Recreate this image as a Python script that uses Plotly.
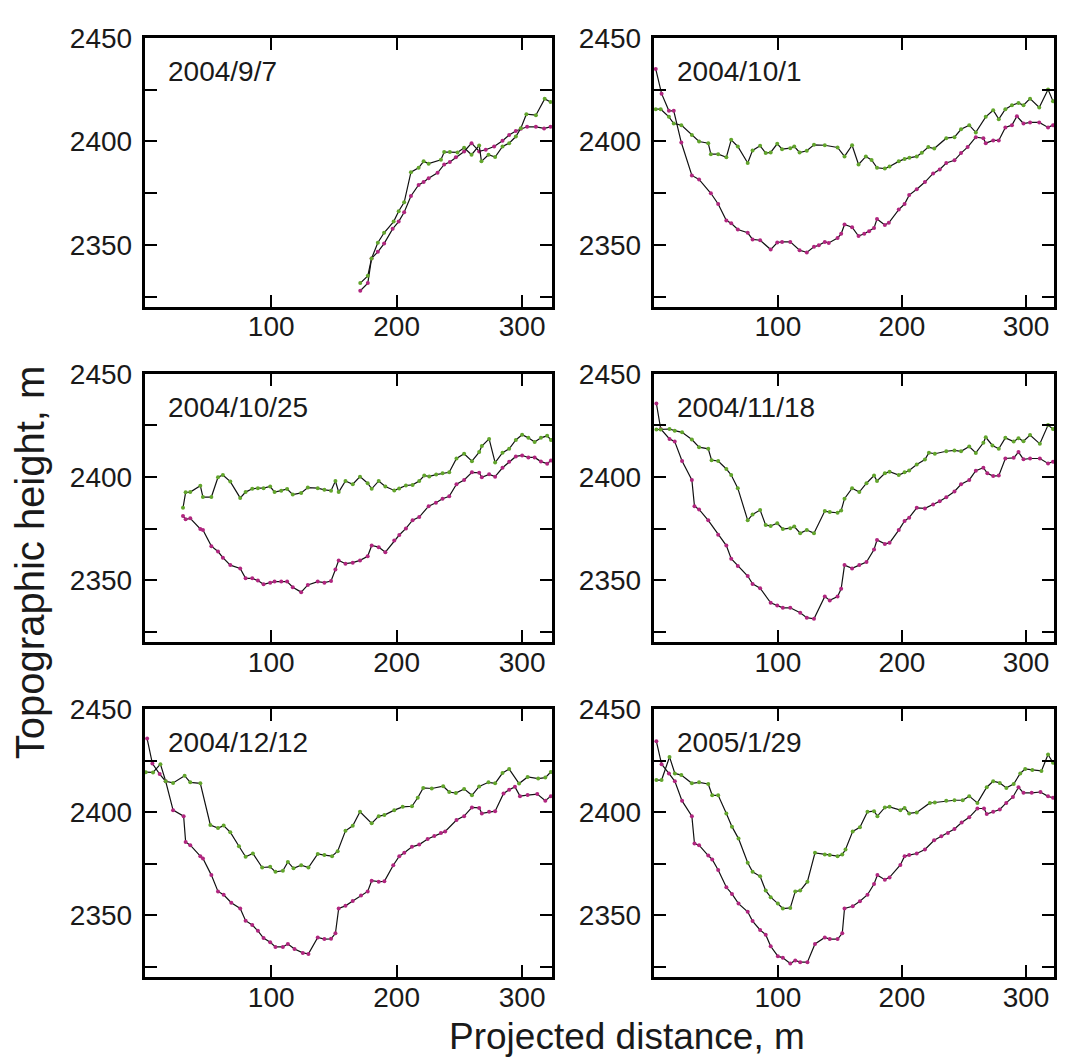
import plotly.graph_objects as go

# ---------------- data ----------------
dates = ["2004/9/7", "2004/10/1", "2004/10/25", "2004/11/18", "2004/12/12", "2005/1/29"]

# panel 1 : 2004/9/7
p1_green_x = [171, 177, 180, 185, 190, 197.6, 201.6, 206, 211.4, 217.5, 221.5, 225.5, 235.3, 237.9, 242.4, 248.5, 253.8, 259.7, 265.8, 267.6, 273.2, 278.5, 284.4, 289.7, 295, 299, 303.4, 311, 318, 322.7]
p1_green_y = [2331.5, 2335, 2343.4, 2351, 2355.8, 2361.2, 2366.2, 2370.5, 2385.1, 2387.2, 2390.3, 2389.2, 2391.1, 2394.8, 2394.8, 2394.6, 2396.9, 2393.5, 2398, 2390.3, 2393.5, 2392.4, 2397.5, 2399.1, 2402.3, 2406.3, 2413.1, 2412.6, 2420.5, 2419]
p1_mag_x = [171, 177, 180, 185, 190, 196.8, 201.6, 206, 211.4, 217.5, 221.5, 225.5, 232.6, 237.9, 242.4, 247.2, 253.8, 259.7, 265.8, 271, 277.7, 284.4, 289.7, 295, 299, 304, 311, 317.5, 322.7]
p1_mag_y = [2327.8, 2331.5, 2343.4, 2346.6, 2350.6, 2357.7, 2361.2, 2365.7, 2373.6, 2378.9, 2380.3, 2382.1, 2384.8, 2388.8, 2390, 2392.3, 2395.1, 2399.1, 2395.1, 2395.9, 2397.5, 2400.3, 2403, 2405, 2406, 2407, 2407, 2406.2, 2407]

# panel 2 : 2004/10/1
p2_green_x = [1.6, 5.6, 12.2, 16.1, 22.2, 30.7, 36.5, 43.9, 46, 51.9, 58.5, 62.4, 67.7, 75.7, 79.6, 85.7, 90.2, 94.2, 99.5, 103.4, 110, 113.2, 117.5, 123.3, 129.1, 137.8, 148.1, 153.7, 159.8, 165, 170.9, 175.5, 179.9, 186.2, 190, 197.4, 202.1, 206, 211.9, 216, 221.2, 226, 235.7, 242.3, 247.6, 254.2, 259.5, 267.5, 273.5, 278, 283.3, 288.6, 293.9, 297.9, 303.2, 310.6, 317.7, 321.7]
p2_green_y = [2415.5, 2415.5, 2411.8, 2408.6, 2407.8, 2403.1, 2399.9, 2399.1, 2393.8, 2393.8, 2392.3, 2400.7, 2397.5, 2389.5, 2395.6, 2397.8, 2394.3, 2394.6, 2398.8, 2396.2, 2396.7, 2397.5, 2394.6, 2395.4, 2398.3, 2398.1, 2397, 2392.7, 2398.1, 2388.8, 2392.7, 2391, 2387.2, 2386.8, 2387.8, 2390.3, 2391.5, 2392, 2392.7, 2394.5, 2397.2, 2396.5, 2401.5, 2402, 2405.8, 2407.8, 2404.3, 2411.8, 2415, 2410.7, 2415.5, 2417.4, 2418.5, 2417.4, 2420.6, 2416.3, 2425, 2419.4]
p2_mag_x = [1.6, 6.3, 12.2, 16.1, 22.2, 30.7, 36.5, 46, 51.9, 58.5, 62.4, 67.7, 75.7, 79.6, 85.7, 94.2, 99.5, 103.4, 110, 117.5, 123.3, 129.1, 133, 137.8, 141, 148.1, 151, 153.7, 159.8, 165, 169.6, 173.5, 177.5, 179.9, 186.2, 189.4, 197.4, 202.1, 205.8, 211.9, 218.5, 225.1, 230.4, 235.7, 242.3, 247.6, 252.9, 259.5, 265.6, 267.5, 273.5, 278, 283.3, 288.6, 292.6, 297.9, 303.2, 310.6, 317.7, 321.7]
p2_mag_y = [2434.9, 2423, 2414.7, 2414.7, 2399.4, 2383.5, 2381.6, 2374.9, 2369.7, 2361.7, 2360.4, 2357.4, 2355.8, 2352.6, 2352.2, 2347.7, 2351.1, 2351.4, 2351.4, 2347.4, 2346.3, 2349, 2349.8, 2351.4, 2350.9, 2353.3, 2355.3, 2359.8, 2358.5, 2354.2, 2355.3, 2356.5, 2358.1, 2362.5, 2359.6, 2360.6, 2367, 2369.7, 2374, 2376.8, 2380.3, 2384.5, 2386.4, 2389.5, 2390.8, 2394.3, 2397.2, 2402, 2401.5, 2399.1, 2400.4, 2400.4, 2406.7, 2407.8, 2412.1, 2408.6, 2409.1, 2409.1, 2406.7, 2407.8]

# panel 3 : 2004/10/25
p3_green_x = [29.7, 31.8, 35.5, 43.5, 45.6, 52.3, 57.6, 61.5, 67.4, 75.3, 79.6, 84.9, 89.4, 93.9, 99.2, 102.7, 108, 112.7, 117.2, 123.9, 129.2, 137.1, 142.4, 147.7, 151.2, 153.8, 159.2, 165, 170.8, 176.9, 180.1, 185.7, 191, 198.1, 202, 207.4, 212.7, 218, 222, 226, 231.5, 236.6, 241.9, 247.7, 253.8, 260, 265.8, 267.9, 273.7, 278.5, 284.4, 289.7, 295, 300, 305, 310, 315, 320, 323]
p3_green_y = [2385.1, 2392.6, 2392.7, 2395.8, 2390.3, 2390.3, 2399.9, 2401, 2397.8, 2389.9, 2392.7, 2394.3, 2394.6, 2394.6, 2395.4, 2392.7, 2393.4, 2394.2, 2391.5, 2392.3, 2394.9, 2394.6, 2393.8, 2393.4, 2398.1, 2392.7, 2398.1, 2396.5, 2400.2, 2397, 2394.3, 2398.1, 2395.4, 2393.5, 2394.5, 2395.9, 2396.2, 2398.1, 2400.7, 2400.3, 2401.2, 2401.8, 2402.3, 2409, 2411.3, 2407.7, 2412.1, 2415, 2418.5, 2407, 2411.8, 2413.7, 2418, 2420.5, 2419, 2417, 2419, 2420, 2418]
p3_mag_x = [29.7, 31.8, 35.5, 43.5, 45.6, 52.3, 57.6, 61.5, 67.4, 75.3, 79.6, 84.9, 89.4, 93.9, 99.2, 102.7, 108, 112.7, 117.2, 123.9, 129.2, 137.1, 142.4, 147.7, 151.2, 153.8, 159.2, 165, 170.8, 176.9, 180.1, 185.7, 191, 198.1, 202.1, 207.4, 212.7, 218, 225.5, 231.3, 236.6, 241.9, 247.7, 253.8, 260, 265.8, 267.9, 273.7, 278.5, 284.4, 289.7, 295, 300, 305, 310, 315, 320, 323]
p3_mag_y = [2381.1, 2379.5, 2380, 2374.8, 2374.3, 2366.5, 2363.9, 2360.9, 2357.3, 2355.7, 2350.9, 2350.9, 2349.8, 2348, 2348.8, 2349.3, 2349.3, 2349.3, 2346.6, 2344.2, 2347.7, 2349.3, 2348.8, 2349.6, 2355.2, 2359.6, 2358, 2358.5, 2359.6, 2361.6, 2366.8, 2366, 2363.6, 2369.2, 2371.9, 2375.1, 2379.1, 2380.6, 2385.9, 2387.5, 2389.5, 2390.7, 2396.5, 2398.6, 2402.3, 2402.1, 2399.9, 2401.3, 2400.2, 2404.5, 2407.4, 2410, 2410.5, 2409.5, 2409.5, 2407.5, 2406.5, 2408]

# panel 4 : 2004/11/18
p4_green_x = [2.1, 5.6, 12.7, 16.9, 22.8, 30.7, 36.5, 43.9, 46.6, 51.9, 58.5, 62.4, 67.7, 75.7, 79.6, 85.7, 90.2, 94.2, 99.5, 104, 110, 113.2, 118, 123.3, 129.1, 137.8, 141.8, 148.1, 151, 153.7, 159.8, 165.6, 171.4, 177.5, 179.9, 186.2, 190, 197.4, 202.1, 205.8, 211.9, 218.5, 221.7, 226.5, 235.7, 242.3, 247.6, 254.2, 259.5, 265.6, 267.5, 272.9, 278, 283.3, 290, 293.9, 297.9, 303.2, 311.1, 317.7, 321.7]
p4_green_y = [2423, 2423, 2423.3, 2422.5, 2421.7, 2418.2, 2414.5, 2413.7, 2408.2, 2407.8, 2403.9, 2401, 2394.6, 2379, 2381.9, 2384, 2376.7, 2376.3, 2377.6, 2374.8, 2375.2, 2376, 2372.8, 2374.3, 2372.8, 2383.5, 2383, 2382.7, 2383.8, 2389.5, 2394.6, 2392.7, 2397, 2400.7, 2398.1, 2401.8, 2402.6, 2401, 2402.3, 2403.2, 2406.1, 2408.5, 2411.8, 2411.3, 2412.5, 2412.9, 2412.5, 2414.8, 2411.7, 2416.6, 2419.3, 2415.3, 2413.7, 2419, 2417.2, 2418.8, 2417.4, 2420.4, 2416.1, 2425.2, 2423.3]
p4_mag_x = [2.1, 5.6, 12.7, 16.9, 22.8, 30.7, 32.8, 36.5, 43.9, 51.9, 58.5, 62.4, 67.7, 75.7, 79.6, 85.7, 94.2, 99.5, 104, 110, 118, 123.3, 129.1, 137.8, 141.8, 148.1, 151, 153.7, 159.8, 165.6, 171.4, 177.5, 179.9, 186.2, 190, 197.4, 202.1, 205.8, 211.9, 218.5, 225.1, 230.4, 235.7, 242.3, 247.6, 254.2, 259.5, 265.6, 268.8, 273.5, 278, 283.3, 290, 293.9, 297.9, 303.2, 311.1, 317.7, 321.7]
p4_mag_y = [2435.7, 2423.3, 2418.5, 2417.2, 2407.8, 2398.6, 2385.9, 2384.3, 2379, 2372, 2366.8, 2360.4, 2356.9, 2352, 2348.2, 2346.1, 2339, 2337.7, 2336.6, 2336.6, 2334.2, 2331.8, 2331.3, 2342.1, 2340.2, 2342.1, 2345.8, 2357.3, 2355.7, 2357.3, 2358.8, 2364.9, 2369.5, 2367.6, 2368.1, 2374.3, 2378.7, 2380.3, 2385.1, 2384.8, 2386.7, 2388.3, 2390.2, 2393, 2396.5, 2398.6, 2403.1, 2404.5, 2401.8, 2400.5, 2400.7, 2409, 2409.3, 2412.1, 2408.6, 2409, 2409, 2406.6, 2407.4]

# panel 5 : 2004/12/12
p5_green_x = [0, 5.8, 11.7, 15.9, 21.8, 31, 35.5, 43.5, 51.5, 57.6, 62.1, 67.4, 74.3, 79.6, 85.4, 92.8, 99.2, 103.4, 109.3, 113.3, 117.8, 123.9, 129.7, 137.1, 142.4, 148.5, 153, 159.2, 165, 170.8, 180.1, 185.7, 190.2, 198.1, 204.8, 212.2, 216.8, 221.2, 228, 237.1, 241.9, 247.2, 253.8, 260, 265.8, 273.2, 278.5, 284.4, 289.7, 297.6, 304.4, 312.8, 318.5, 322.9]
p5_green_y = [2419.4, 2419.3, 2423.3, 2415, 2414.2, 2417.7, 2414.5, 2414, 2393.8, 2392.3, 2393.5, 2390.3, 2383.5, 2378.4, 2380, 2373.2, 2373.5, 2371.1, 2371.6, 2375.9, 2372.8, 2374.3, 2373.2, 2379.8, 2379.2, 2378.7, 2381.1, 2391, 2393.4, 2400.2, 2394.6, 2398.1, 2398.6, 2401, 2402.6, 2402.9, 2407, 2411.8, 2411.5, 2412.6, 2409.8, 2409.3, 2411.3, 2408.2, 2412.5, 2414.5, 2414, 2419, 2420.9, 2413.9, 2417.1, 2416.3, 2416.8, 2419.5]
p5_mag_x = [1.1, 5.3, 11.1, 15.9, 21.8, 30.2, 31.8, 35.5, 43.5, 45.6, 52.3, 57.6, 62.1, 68.2, 75.3, 79.6, 84.9, 89.4, 93.9, 99.2, 103.4, 109.3, 113.3, 118.6, 125.2, 129.7, 137.1, 142.4, 147.7, 151.2, 153.8, 159.2, 165, 171.6, 176.9, 180.1, 185.7, 190.2, 197.3, 202.1, 206.1, 212.2, 218, 224.7, 230, 235.3, 238.7, 247.7, 253.8, 260, 265.8, 267.9, 273.7, 278.5, 285.2, 289.7, 294.3, 298.3, 304.4, 312.1, 318.5, 322.9]
p5_mag_y = [2435.7, 2423.6, 2418.5, 2415, 2401, 2398.1, 2385.6, 2384, 2378.7, 2377.6, 2369.5, 2361.6, 2360, 2356.1, 2353.3, 2347.4, 2345.3, 2342.5, 2339, 2336.9, 2334.7, 2334.7, 2336.1, 2333.7, 2331.8, 2331.3, 2339.3, 2338.5, 2338.6, 2341.3, 2353.3, 2354.6, 2356.9, 2359.6, 2361.6, 2366.8, 2366.3, 2366.5, 2374.3, 2378.7, 2380.3, 2383.2, 2384.3, 2387, 2388.5, 2389.9, 2390.7, 2396.2, 2398.1, 2402.3, 2402.1, 2399.4, 2400.2, 2400.5, 2409.1, 2410.9, 2412.3, 2407.8, 2408.3, 2408.8, 2405.6, 2407.8]

# panel 6 : 2005/1/29
p6_green_x = [2.1, 6.3, 12.7, 17, 22.2, 30.7, 36.5, 43.9, 47.1, 51.9, 58.5, 63, 68.3, 75.7, 79.6, 85.7, 90.2, 94.2, 100, 104, 110, 114, 118, 123.8, 129.9, 137.8, 141.8, 148.1, 151.9, 154.5, 160.3, 166.1, 172.2, 177.5, 180.2, 186.2, 190, 198.7, 202.1, 205.8, 211.9, 222.5, 226.5, 235.7, 242.3, 248.9, 254.2, 260.8, 268.3, 273.5, 278.8, 284.1, 290, 295.3, 299.3, 305, 312.4, 317.7, 321.7]
p6_green_y = [2415.6, 2415.6, 2426.8, 2418.8, 2418, 2414, 2414.5, 2413.7, 2408.2, 2408.2, 2399.4, 2393, 2387.2, 2375.5, 2371.1, 2368.9, 2362, 2358.8, 2355.7, 2353.3, 2353.6, 2361.6, 2362, 2366.3, 2380.3, 2379.5, 2379.3, 2378.7, 2379.5, 2381.9, 2390.7, 2392.7, 2400.2, 2400.5, 2398.1, 2402.3, 2402.6, 2401, 2402.1, 2399.4, 2399.9, 2404.5, 2404.7, 2405.5, 2405.8, 2405.8, 2407.8, 2404.5, 2412.1, 2415, 2414.2, 2411.8, 2413.7, 2418.8, 2421, 2420.5, 2420, 2428, 2424]
p6_mag_x = [2.1, 6.3, 12.2, 17, 22.8, 30.7, 32.8, 36.5, 43.9, 47.1, 51.9, 58.5, 63, 68.3, 75.7, 79.6, 85.7, 90.2, 94.2, 100, 104, 110, 114, 118, 123.8, 129.9, 137.8, 141.8, 148.1, 151.9, 153.7, 160.3, 166.1, 172.2, 177.5, 180.2, 186.2, 190, 198.7, 202.1, 205.8, 211.9, 218.5, 225.9, 231.7, 237, 242.3, 248.1, 254.2, 260.8, 266.1, 268.3, 273.5, 278.8, 284, 289.4, 293.9, 297.9, 304.5, 311.6, 317.7, 321.7]
p6_mag_y = [2434.4, 2423.3, 2418.8, 2415, 2405.5, 2398.1, 2384.8, 2384, 2379, 2377.1, 2372, 2363.6, 2360.4, 2355.7, 2351.7, 2347.2, 2342.9, 2340.6, 2335, 2330.2, 2329.4, 2326.6, 2328.1, 2327.3, 2327.3, 2336.1, 2339.3, 2338.5, 2338.5, 2341.3, 2353.3, 2354.4, 2356.8, 2360, 2365.2, 2369.5, 2367.3, 2368.4, 2374.4, 2378.7, 2379.2, 2380, 2381.9, 2386.4, 2388.3, 2389.9, 2391.9, 2395, 2397.5, 2401.8, 2401.8, 2399.1, 2400.2, 2401.3, 2404.5, 2407.4, 2412.1, 2409.4, 2409.4, 2409.8, 2407.7, 2407]

x_tick_vals = [100, 200, 300]
y_tick_vals = [2325, 2350, 2375, 2400, 2425, 2450]
y_tick_text = ["", "2350", "", "2400", "", "2450"]

panels = [
    (p1_green_x, p1_green_y, p1_mag_x, p1_mag_y),
    (p2_green_x, p2_green_y, p2_mag_x, p2_mag_y),
    (p3_green_x, p3_green_y, p3_mag_x, p3_mag_y),
    (p4_green_x, p4_green_y, p4_mag_x, p4_mag_y),
    (p5_green_x, p5_green_y, p5_mag_x, p5_mag_y),
    (p6_green_x, p6_green_y, p6_mag_x, p6_mag_y),
]

# ---------------- layout geometry ----------------
# the page places the figure 8 px from the top-left corner and the visible
# width ends at about x = 1057, so the figure is sized to fit; positions are
# given in screen pixels and shifted by the offset
OFF = 8
W, H = 1049, 1053
col_px = [(145, 553), (655, 1056)]          # screen pixels
row_px = [(23, 296), (364, 636), (704, 976)]
x_ranges = [[-0.8, 323.8], [0, 322.5]]
y_range = [2320, 2450]

GREEN = "#62a52c"
MAGENTA = "#b0267f"
FONT = "Liberation Sans, Arial, Helvetica, sans-serif"
TXT = "#1a1a1a"


def fx(px):
    return (px - OFF) / W


def fy(py):
    return 1 - (py - OFF) / H


fig = go.Figure()
layout = {}
annotations = []
for i, (gx, gy, mx, my) in enumerate(panels):
    r, c = divmod(i, 2)
    n = i + 1
    xa = "x" if n == 1 else f"x{n}"
    ya = "y" if n == 1 else f"y{n}"
    for xs, ys, col in [(mx, my, MAGENTA), (gx, gy, GREEN)]:
        assert len(xs) == len(ys)
        fig.add_trace(go.Scatter(
            x=xs, y=ys, mode="lines+markers", xaxis=xa, yaxis=ya,
            line=dict(color="#111111", width=1.2),
            marker=dict(color=col, size=4, line=dict(width=0)),
            showlegend=False, hoverinfo="skip"))
    x0, x1 = col_px[c]
    y0, y1 = row_px[r]
    axis_common = dict(showline=True, linewidth=3, linecolor="black", mirror="ticks",
                       ticks="inside", ticklen=12, tickwidth=1.5, tickcolor="black",
                       showgrid=False, zeroline=False,
                       tickfont=dict(family=FONT, size=28, color=TXT))
    layout["xaxis" if n == 1 else f"xaxis{n}"] = dict(
        domain=[fx(x0), fx(x1)], range=x_ranges[c], anchor=ya,
        tickmode="array", tickvals=x_tick_vals, ticklabelstandoff=-7, **axis_common)
    layout["yaxis" if n == 1 else f"yaxis{n}"] = dict(
        domain=[fy(y1), fy(y0)], range=y_range, anchor=xa,
        tickmode="array", tickvals=y_tick_vals, ticktext=y_tick_text,
        ticklabelstandoff=4, **axis_common)
    annotations.append(dict(
        text=dates[i], xref="paper", yref="paper",
        x=fx(x0 + 21), y=fy(y0 + 34), xanchor="left", yanchor="middle",
        showarrow=False, font=dict(family=FONT, size=28, color=TXT)))

annotations.append(dict(text="Topographic height, m", xref="paper", yref="paper",
                        x=fx(30), y=fy(555), textangle=-90, showarrow=False,
                        xanchor="center", yanchor="middle",
                        font=dict(family=FONT, size=40, color=TXT)))
annotations.append(dict(text="Projected distance, m", xref="paper", yref="paper",
                        x=fx(628), y=fy(1036), showarrow=False,
                        xanchor="center", yanchor="middle",
                        font=dict(family=FONT, size=37, color=TXT)))

fig.update_layout(width=W, height=H, margin=dict(l=0, r=0, t=0, b=0),
                  paper_bgcolor="white", plot_bgcolor="white",
                  annotations=annotations, **layout)
fig.write_html("out.html")
